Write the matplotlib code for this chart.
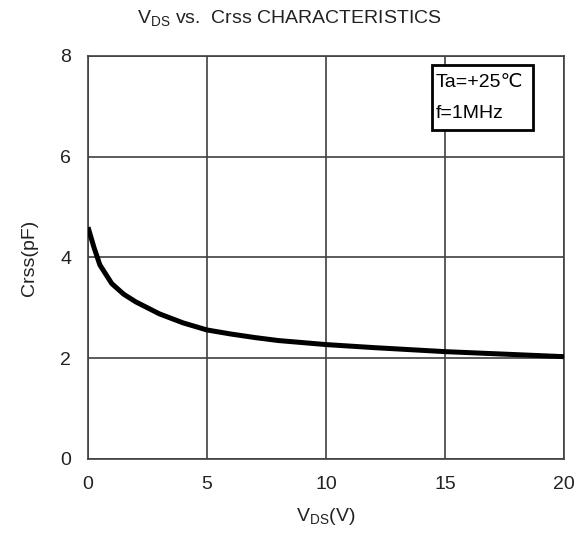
import matplotlib
matplotlib.use("Agg")
import matplotlib.pyplot as plt
from matplotlib.patches import Rectangle

# ---------------------------
# Data
# ---------------------------
vds = [0, 0.25, 0.5, 1, 1.5, 2, 2.5, 3, 4, 5, 6, 7, 8, 10, 12, 15, 17.5, 20]
crss = [4.6, 4.2, 3.85, 3.48, 3.27, 3.12, 3.0, 2.88, 2.7, 2.56, 2.48, 2.41,
        2.35, 2.27, 2.21, 2.13, 2.08, 2.03]

x_ticks = [0, 5, 10, 15, 20]
y_ticks = [0, 2, 4, 6, 8]

plt.rcParams["font.family"] = ["Liberation Sans", "DejaVu Sans"]
plt.rcParams["mathtext.fontset"] = "custom"
plt.rcParams["mathtext.rm"] = "Liberation Sans"

fig = plt.figure(figsize=(5.79, 5.33), dpi=100)
ax = fig.add_axes([0.152, 0.139, 0.822, 0.756])

grid_col = "#404040"
ax.plot(vds, crss, color="black", lw=3.6, solid_capstyle="butt", zorder=3)

ax.set_xlim(0, 20)
ax.set_ylim(0, 8)
ax.set_xticks(x_ticks)
ax.set_yticks(y_ticks)
ax.tick_params(length=0, labelsize=14, colors="#222222")
ax.tick_params(axis="x", pad=12)
ax.tick_params(axis="y", pad=12)
ax.grid(True, color=grid_col, lw=1.2)
for s in ax.spines.values():
    s.set_color(grid_col)
    s.set_linewidth(1.2)

ax.set_xlabel(r"V$_{\mathrm{DS}}$(V)", fontsize=14, color="#222222", labelpad=10)
ax.set_ylabel("Crss(pF)", fontsize=14, color="#222222", labelpad=16)
fig.text(0.5, 0.965, r"V$_{\mathrm{DS}}$ vs.  Crss CHARACTERISTICS",
         ha="center", va="center", fontsize=14, color="#222222")

# condition box
ax.add_patch(Rectangle((0.723, 0.816), 0.212, 0.162, transform=ax.transAxes,
                       facecolor="white", edgecolor="black", lw=2, zorder=4))
ax.text(0.73, 0.935, "Ta=+25℃", transform=ax.transAxes, fontsize=14,
        va="center", ha="left", zorder=5)
ax.text(0.73, 0.858, "f=1MHz", transform=ax.transAxes, fontsize=14,
        va="center", ha="left", zorder=5)

fig.savefig("out.png", dpi=100)
